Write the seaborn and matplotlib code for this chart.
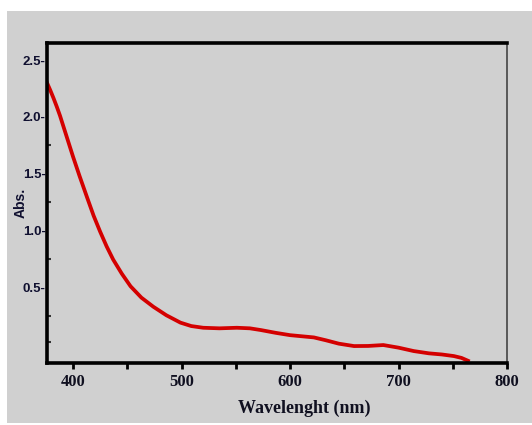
import pandas as pd
import matplotlib.pyplot as plt
import seaborn as sns
import numpy as np
from matplotlib.patches import Rectangle
from matplotlib.ticker import MultipleLocator, FixedLocator

# values
wavelength = [376, 379, 382, 385, 388, 394, 400, 406, 413, 419, 425, 431, 437, 445, 453, 463, 474,
              486, 499, 509, 520, 535, 551, 563, 573, 587, 600, 611, 622, 633, 645, 659,
              672, 686, 700, 714, 728, 740, 751, 758, 764]
absorbance = [2.30, 2.235, 2.165, 2.09, 2.01, 1.83, 1.65, 1.48, 1.29, 1.13, 0.99, 0.86, 0.745, 0.62, 0.51, 0.41, 0.33,
              0.255, 0.19, 0.16, 0.145, 0.14, 0.145, 0.14, 0.125, 0.10, 0.08, 0.07, 0.06, 0.035, 0.005, -0.016,
              -0.015, -0.007, -0.03, -0.06, -0.08, -0.09, -0.104, -0.12, -0.145]
y_ticks = [0.5, 1.0, 1.5, 2.0, 2.5]
y_tick_labels = ["0.5-", "1.0-", "1.5-", "2.0-", "2.5-"]
x_ticks = [400, 500, 600, 700, 800]

df = pd.DataFrame({"Wavelength": wavelength, "Abs": absorbance})

fig = plt.figure(figsize=(5.32, 4.25), dpi=100)
fig.patch.set_facecolor("white")
bg = Rectangle((7 / 532, 0.005), 1.0, 1 - 11 / 425 - 0.005,
               transform=fig.transFigure, facecolor="#d0d0d0",
               edgecolor="none", zorder=-10)
fig.add_artist(bg)

ax = fig.add_axes([47 / 532, 1 - 363 / 425, 460 / 532, 320 / 425])
ax.set_facecolor("#d0d0d0")

sns.lineplot(data=df, x="Wavelength", y="Abs", color="#d40000", linewidth=2.7, ax=ax)

ax.set_xlim(376, 800)
ax.set_ylim(-0.165, 2.65)

ax.set_xticks(x_ticks)
ax.xaxis.set_minor_locator(MultipleLocator(50))
ax.set_xticklabels([str(t) for t in x_ticks], fontfamily="Liberation Serif",
                   fontweight="bold", fontsize=12, color="#101020")
ax.tick_params(axis="x", which="both", direction="out", length=4, width=2,
               color="black", pad=4)

ax.set_yticks(y_ticks)
ax.set_yticklabels(y_tick_labels, fontfamily="Liberation Sans", fontweight="bold",
                   fontsize=9.5, color="#101030")
ax.yaxis.set_minor_locator(FixedLocator([0.02, 0.25, 0.75, 1.25, 1.75, 2.25]))
ax.tick_params(axis="y", which="major", length=0, pad=1)
ax.tick_params(axis="y", which="minor", direction="in", length=3, width=1.5, color="#333333")

for side in ["left", "top", "bottom"]:
    ax.spines[side].set_linewidth(2.6)
    ax.spines[side].set_color("black")
ax.spines["right"].set_linewidth(1.2)
ax.spines["right"].set_color("#444444")

ax.set_xlabel("Wavelenght (nm)", fontfamily="Liberation Serif", fontweight="bold",
              fontsize=13, color="#101020")
ax.xaxis.set_label_coords(0.56, -0.115)
ax.set_ylabel("Abs.", fontfamily="Liberation Sans", fontweight="bold",
              fontsize=10, color="#101030")
ax.yaxis.set_label_coords(-0.041, 0.50)

fig.savefig("out.png", dpi=100, facecolor=fig.get_facecolor())
